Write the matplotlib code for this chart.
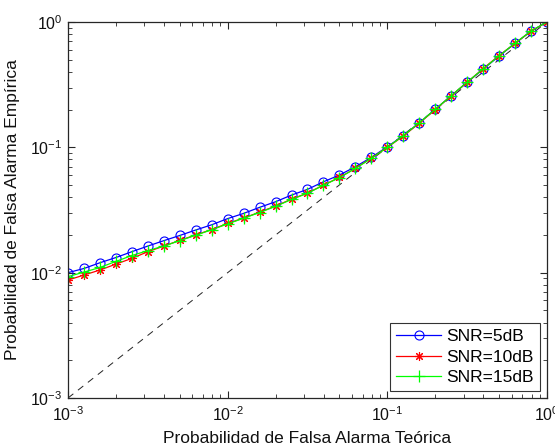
import numpy as np
import matplotlib
matplotlib.use("Agg")
import matplotlib.pyplot as plt
from matplotlib.ticker import LogLocator, NullFormatter

plt.rcParams['font.family'] = ['Liberation Sans', 'DejaVu Sans']
plt.rcParams['mathtext.fontset'] = 'custom'
plt.rcParams['mathtext.rm'] = 'Liberation Sans'
plt.rcParams['mathtext.it'] = 'Liberation Sans'

# Theoretical false alarm probability (31 log-spaced points, 1e-3 .. 1)
pfa_teorica = [1.000e-03, 1.259e-03, 1.585e-03, 1.995e-03, 2.512e-03, 3.162e-03,
               3.981e-03, 5.012e-03, 6.310e-03, 7.943e-03, 1.000e-02, 1.259e-02,
               1.585e-02, 1.995e-02, 2.512e-02, 3.162e-02, 3.981e-02, 5.012e-02,
               6.310e-02, 7.943e-02, 1.000e-01, 1.259e-01, 1.585e-01, 1.995e-01,
               2.512e-01, 3.162e-01, 3.981e-01, 5.012e-01, 6.310e-01, 7.943e-01, 1.0]

snr5 = [0.0100, 0.0108, 0.0120, 0.0132, 0.0147, 0.0163, 0.0180, 0.0198, 0.0219,
        0.0241, 0.0270, 0.0297, 0.0332, 0.0368, 0.0416, 0.0462, 0.0531, 0.0601,
        0.0700, 0.0832, 0.101, 0.124, 0.157, 0.201, 0.258, 0.330, 0.420, 0.535,
        0.675, 0.845, 1.0]
snr10 = [0.00873, 0.00957, 0.0105, 0.0117, 0.0130, 0.0147, 0.0163, 0.0181, 0.0200,
         0.0221, 0.0247, 0.0273, 0.0304, 0.0340, 0.0386, 0.0432, 0.0500, 0.0575,
         0.0680, 0.0820, 0.100, 0.123, 0.156, 0.200, 0.258, 0.330, 0.425, 0.540,
         0.675, 0.845, 1.0]
snr15 = [0.0093, 0.0101, 0.0110, 0.0123, 0.0137, 0.0150, 0.0163, 0.0180, 0.0199,
         0.0220, 0.0245, 0.0272, 0.0302, 0.0338, 0.0384, 0.0430, 0.0498, 0.0573,
         0.0678, 0.0818, 0.100, 0.124, 0.157, 0.201, 0.258, 0.332, 0.422, 0.538,
         0.677, 0.848, 1.0]

labels = ['SNR=5dB', 'SNR=10dB', 'SNR=15dB']
ref_line = [1e-3, 1.0]

fig = plt.figure(figsize=(5.55, 4.46), dpi=100)
ax = fig.add_axes([0.1225, 0.1076, 0.8631, 0.8431])

ax.plot(ref_line, ref_line, color='#222222', linestyle=(0, (7, 6)), linewidth=0.7)
ax.plot(pfa_teorica, snr5, color=(0, 0, 1), marker='o', markersize=6.5,
        markerfacecolor='none', markeredgewidth=0.8, linewidth=0.9, label=labels[0])
ax.plot(pfa_teorica, snr10, color=(1, 0, 0), marker=(8, 2, 0), markersize=6.5,
        markeredgewidth=0.8, linewidth=0.9, label=labels[1])
ax.plot(pfa_teorica, snr15, color=(0, 1, 0), marker='+', markersize=8,
        markeredgewidth=0.9, linewidth=0.9, label=labels[2])

ax.set_xscale('log')
ax.set_yscale('log')
ax.set_xlim(1e-3, 1)
ax.set_ylim(1e-3, 1)

ax.xaxis.set_major_locator(LogLocator(base=10, numticks=10))
ax.yaxis.set_major_locator(LogLocator(base=10, numticks=10))
ax.xaxis.set_minor_locator(LogLocator(base=10, subs=np.arange(2, 10), numticks=20))
ax.yaxis.set_minor_locator(LogLocator(base=10, subs=np.arange(2, 10), numticks=20))
ax.xaxis.set_minor_formatter(NullFormatter())
ax.yaxis.set_minor_formatter(NullFormatter())

ax.tick_params(which='both', direction='in', top=True, right=True, colors='#262626',
               labelsize=11.5, labelcolor='#111111')
ax.tick_params(which='major', length=5, width=0.8)
ax.tick_params(which='minor', length=3, width=0.6)
ax.tick_params(axis='x', pad=5)
ax.tick_params(axis='y', pad=4)
for s in ax.spines.values():
    s.set_color('#262626')
    s.set_linewidth(0.9)

ax.set_xlabel('Probabilidad de Falsa Alarma Teórica', fontsize=12.5, labelpad=5,
              color='#111111')
ax.set_ylabel('Probabilidad de Falsa Alarma Empírica', fontsize=12.5, labelpad=7,
              color='#111111')

leg = ax.legend(loc='lower right', fontsize=12.5, frameon=True, fancybox=False,
                handlelength=2.6, borderpad=0.35, labelspacing=0.3,
                borderaxespad=0.4, handletextpad=0.3)
leg.get_frame().set_edgecolor('black')
leg.get_frame().set_linewidth(0.8)

fig.savefig('out.png', dpi=100)
